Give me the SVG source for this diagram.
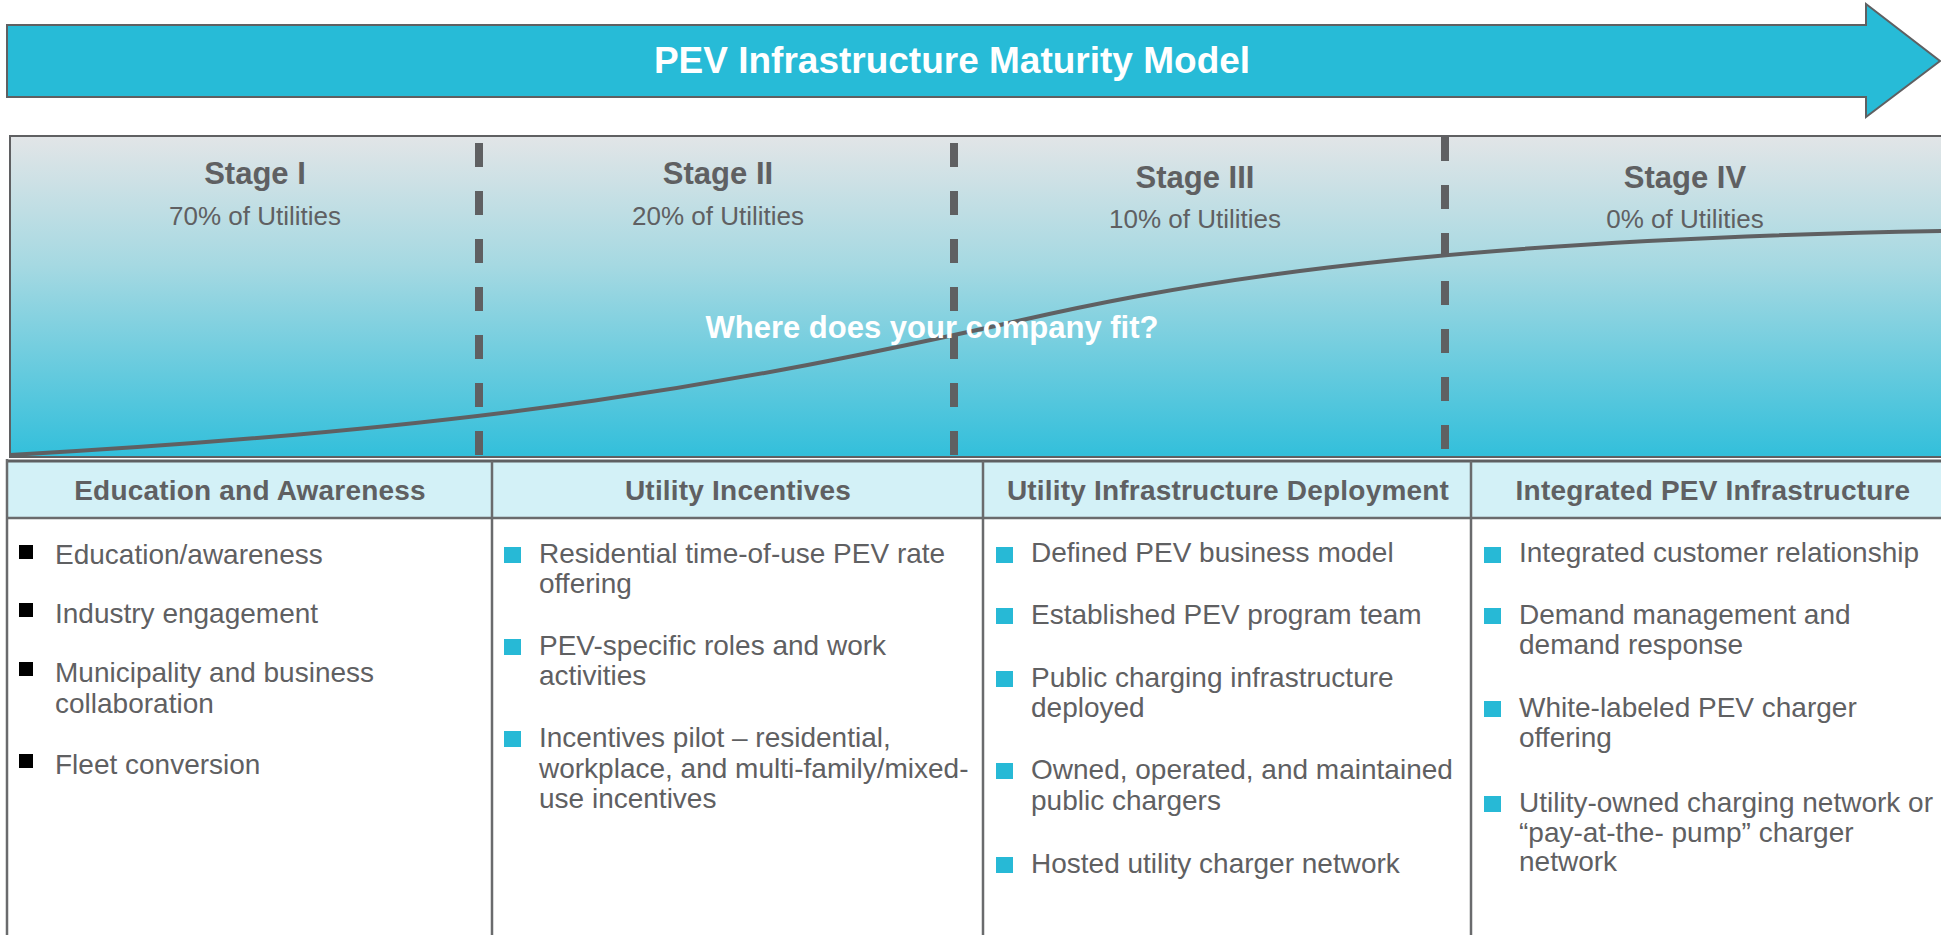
<svg xmlns="http://www.w3.org/2000/svg" width="1941" height="935" viewBox="0 0 1941 935">
  <defs>
    <linearGradient id="panelGrad" x1="0" y1="0" x2="0" y2="1">
      <stop offset="0" stop-color="#e2e5e7"/>
      <stop offset="0.4" stop-color="#a6d9e2"/>
      <stop offset="1" stop-color="#32bfdb"/>
    </linearGradient>
    <style>
      .stageTitle { font-family: "Liberation Sans", Arial, sans-serif; font-weight: bold; font-size: 31px; fill: #5f6062; text-anchor: middle; }
      .stageSub { font-family: "Liberation Sans", Arial, sans-serif; font-size: 26px; fill: #5f6062; text-anchor: middle; }
      .hdr { font-family: "Liberation Sans", Arial, sans-serif; font-weight: bold; font-size: 28px; fill: #5f6062; text-anchor: middle; letter-spacing: 0.2px; }
      .body { font-family: "Liberation Sans", Arial, sans-serif; font-size: 28px; fill: #5f6062; }
      .divider { stroke: #5f6062; stroke-width: 8; stroke-dasharray: 24 24; fill: none; }
      .grid { stroke: #6a6b6d; stroke-width: 2.5; fill: none; }
      .bk { fill: #000000; }
      .cy { fill: #27b9d6; }
    </style>
  </defs>

  <rect x="0" y="0" width="1941" height="935" fill="#ffffff"/>

  <g id="title-arrow">
    <polygon points="7,25 1866,25 1866,4 1940,61 1866,117 1866,97 7,97" fill="#27bbd7" stroke="#5f6062" stroke-width="2"/>
    <text x="952" y="73" font-family="'Liberation Sans', Arial, sans-serif" font-weight="bold" font-size="37" fill="#ffffff" text-anchor="middle">PEV Infrastructure Maturity Model</text>
  </g>

  <g id="stage-panel">
    <rect x="10" y="136" width="1945" height="321" fill="url(#panelGrad)" stroke="#5f6062" stroke-width="2"/>
  </g>

  <g id="curve">
    <path d="M10,455 C500,428 750,380 1000,325 C1160,288 1400,240 1945,231" fill="none" stroke="#5f6062" stroke-width="4"/>
  </g>

  <g id="stage-dividers">
    <line class="divider" x1="479" y1="143" x2="479" y2="457"/>
    <line class="divider" x1="954" y1="143" x2="954" y2="457"/>
    <line class="divider" x1="1445" y1="137" x2="1445" y2="457"/>
  </g>

  <g id="stage-1">
    <text class="stageTitle" x="255" y="184">Stage I</text>
    <text class="stageSub" x="255" y="225">70% of Utilities</text>
  </g>
  <g id="stage-2">
    <text class="stageTitle" x="718" y="184">Stage II</text>
    <text class="stageSub" x="718" y="225">20% of Utilities</text>
  </g>
  <g id="stage-3">
    <text class="stageTitle" x="1195" y="188">Stage III</text>
    <text class="stageSub" x="1195" y="228">10% of Utilities</text>
  </g>
  <g id="stage-4">
    <text class="stageTitle" x="1685" y="188">Stage IV</text>
    <text class="stageSub" x="1685" y="228">0% of Utilities</text>
  </g>

  <g id="question">
    <text x="932" y="338" font-family="'Liberation Sans', Arial, sans-serif" font-weight="bold" font-size="31" fill="#ffffff" text-anchor="middle">Where does your company fit?</text>
  </g>

  <g id="table-grid">
    <rect x="7" y="461" width="1945" height="57" fill="#d3f1f7"/>
    <line x1="7" y1="461" x2="1941" y2="461" stroke="#5f6062" stroke-width="3"/>
    <line class="grid" x1="7" y1="518" x2="1941" y2="518"/>
    <line class="grid" x1="7" y1="459" x2="7" y2="935"/>
    <line class="grid" x1="492" y1="461" x2="492" y2="935"/>
    <line class="grid" x1="983" y1="461" x2="983" y2="935"/>
    <line class="grid" x1="1471" y1="461" x2="1471" y2="935"/>
  </g>

  <g id="col-education">
    <text class="hdr" x="250" y="500">Education and Awareness</text>
    <rect class="bk" x="19" y="545" width="14" height="14"/>
    <text class="body" x="55" y="564">Education/awareness</text>
    <rect class="bk" x="19" y="603" width="14" height="14"/>
    <text class="body" x="55" y="623">Industry engagement</text>
    <rect class="bk" x="19" y="662" width="14" height="14"/>
    <text class="body" x="55" y="682">Municipality and business</text>
    <text class="body" x="55" y="713">collaboration</text>
    <rect class="bk" x="19" y="754" width="14" height="14"/>
    <text class="body" x="55" y="774">Fleet conversion</text>
  </g>

  <g id="col-incentives">
    <text class="hdr" x="738" y="500">Utility Incentives</text>
    <rect class="cy" x="504" y="547" width="17" height="16"/>
    <text class="body" x="539" y="563">Residential time-of-use PEV rate</text>
    <text class="body" x="539" y="593">offering</text>
    <rect class="cy" x="504" y="639" width="17" height="16"/>
    <text class="body" x="539" y="655">PEV-specific roles and work</text>
    <text class="body" x="539" y="685">activities</text>
    <rect class="cy" x="504" y="731" width="17" height="16"/>
    <text class="body" x="539" y="747">Incentives pilot – residential,</text>
    <text class="body" x="539" y="778">workplace, and multi-family/mixed-</text>
    <text class="body" x="539" y="808">use incentives</text>
  </g>

  <g id="col-deployment">
    <text class="hdr" x="1228" y="500">Utility Infrastructure Deployment</text>
    <rect class="cy" x="996" y="547" width="17" height="16"/>
    <text class="body" x="1031" y="562">Defined PEV business model</text>
    <rect class="cy" x="996" y="608" width="17" height="16"/>
    <text class="body" x="1031" y="624">Established PEV program team</text>
    <rect class="cy" x="996" y="671" width="17" height="16"/>
    <text class="body" x="1031" y="687">Public charging infrastructure</text>
    <text class="body" x="1031" y="717">deployed</text>
    <rect class="cy" x="996" y="763" width="17" height="16"/>
    <text class="body" x="1031" y="779">Owned, operated, and maintained</text>
    <text class="body" x="1031" y="810">public chargers</text>
    <rect class="cy" x="996" y="857" width="17" height="16"/>
    <text class="body" x="1031" y="873">Hosted utility charger network</text>
  </g>

  <g id="col-integrated">
    <text class="hdr" x="1713" y="500">Integrated PEV Infrastructure</text>
    <rect class="cy" x="1484" y="547" width="17" height="16"/>
    <text class="body" x="1519" y="562">Integrated customer relationship</text>
    <rect class="cy" x="1484" y="608" width="17" height="16"/>
    <text class="body" x="1519" y="624">Demand management and</text>
    <text class="body" x="1519" y="654">demand response</text>
    <rect class="cy" x="1484" y="701" width="17" height="16"/>
    <text class="body" x="1519" y="717">White-labeled PEV charger</text>
    <text class="body" x="1519" y="747">offering</text>
    <rect class="cy" x="1484" y="796" width="17" height="16"/>
    <text class="body" x="1519" y="812">Utility-owned charging network or</text>
    <text class="body" x="1519" y="842">“pay-at-the- pump” charger</text>
    <text class="body" x="1519" y="871">network</text>
  </g>
</svg>
